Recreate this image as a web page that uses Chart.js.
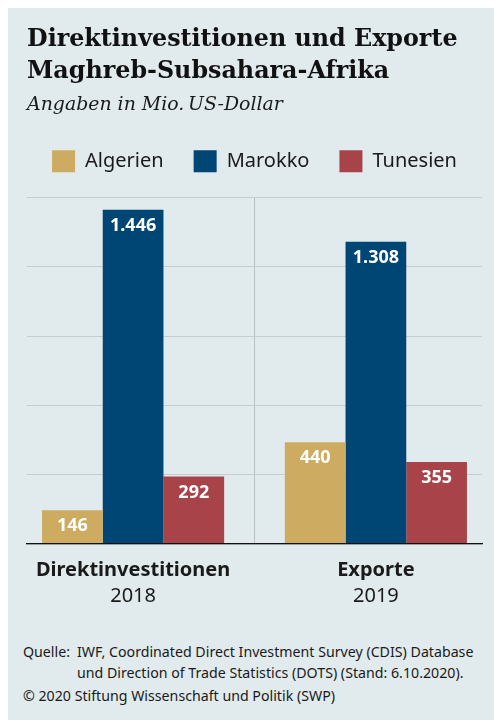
<!DOCTYPE html>
<html lang="de">
<head>
<meta charset="utf-8">
<script src="https://cdn.jsdelivr.net/npm/chart.js@4"></script>
<style>
  html, body { margin: 0; padding: 0; background: #fff; }
  #panel { position: absolute; left: 8px; top: 8px; width: 486px; height: 712px; background: #e1eaed; }
  #chart { position: absolute; left: 0; top: 0; }
  #foot { position: absolute; left: 15px; top: 633px; font-family: "Noto Sans", sans-serif; font-size: 14.2px; color: #1a1a1a; }
  .src { display: flex; line-height: 21px; }
  .lbl { width: 54px; flex: none; }
  .copy { margin-top: 2px; line-height: 21px; }
</style>
</head>
<body>
<div id="panel">
  <canvas id="chart" width="486" height="607"></canvas>
  <div id="foot">
    <div class="src"><span class="lbl">Quelle:</span><span>IWF, Coordinated Direct Investment Survey (CDIS) Database<br>und Direction of Trade Statistics (DOTS) (Stand: 6.10.2020).</span></div>
    <div class="copy">© 2020 Stiftung Wissenschaft und Politik (SWP)</div>
  </div>
</div>
<script>
const categories = ['Direktinvestitionen', 'Exporte'];
const years = ['2018', '2019'];
const countries = ['Algerien', 'Marokko', 'Tunesien'];
const algerien = [146, 440];
const marokko = [1446, 1308];
const tunesien = [292, 355];
const yTicks = [0, 300, 600, 900, 1200, 1500];

const colors = ['#cdab61', '#004675', '#a8434a'];
const ink = '#1a1a1a';

// German thousands separator: 1446 -> 1.446
function fmt(v) {
  return String(v).replace(/\B(?=(\d{3})+(?!\d))/g, '.');
}

const barLabels = {
  id: 'barLabels',
  afterDatasetsDraw(chart) {
    const ctx = chart.ctx;
    ctx.save();
    ctx.fillStyle = '#fff';
    ctx.font = 'bold 18px "Noto Sans"';
    ctx.textAlign = 'center';
    ctx.textBaseline = 'middle';
    chart.data.datasets.forEach((ds, i) => {
      chart.getDatasetMeta(i).data.forEach((bar, j) => {
        ctx.fillText(fmt(ds.data[j]), bar.x, bar.y + 16);
      });
    });
    ctx.restore();
  }
};

// legend kept on one row with wide gaps, plus extra room under it
const legendFit = {
  id: 'legendFit',
  afterInit(chart) {
    const lg = chart.legend;
    const fit = lg.fit;
    const draw = lg._draw;
    lg.fit = function () {
      const mw = this.maxWidth;
      this.maxWidth = mw + 40;
      fit.call(this);
      this.maxWidth = mw;
      this.width = Math.min(this.width, mw);
      this.height += 15;
    };
    lg._draw = function () {
      this.left -= 20;
      this.right += 20;
      draw.call(this);
      this.left += 20;
      this.right -= 20;
    };
  }
};

const datasets = [algerien, marokko, tunesien].map((vals, i) => ({
  label: countries[i],
  data: vals,
  backgroundColor: colors[i],
  borderWidth: 0
}));

new Chart(document.getElementById('chart'), {
  type: 'bar',
  data: {
    labels: categories.map((c, i) => i),
    datasets: datasets
  },
  options: {
    responsive: false,
    animation: false,
    layout: { padding: { left: 19, right: 12, top: 0, bottom: 5 } },
    datasets: {
      bar: { categoryPercentage: 0.75, barPercentage: 1 }
    },
    scales: {
      x: {
        type: 'linear',
        offset: false,
        min: -0.437,
        max: 1.437,
        weight: 0,
        afterBuildTicks: s => { s.ticks = categories.map((c, i) => ({ value: i })); },
        afterFit: s => { s.height = 36; },
        grid: { display: false, drawTicks: false, offset: false },
        border: { display: true, color: '#111', width: 1.3, z: 1 },
        ticks: {
          autoSkip: false,
          maxRotation: 0,
          padding: 14,
          color: ink,
          font: { family: 'Noto Sans', size: 20, weight: 'bold' },
          callback: v => categories[v]
        }
      },
      x2: {
        type: 'linear',
        position: 'bottom',
        offset: false,
        min: -0.437,
        max: 1.437,
        weight: 1,
        afterBuildTicks: s => { s.ticks = [{ value: 0 }, { value: 0.5 }, { value: 1 }]; },
        afterFit: s => { s.height = 30; },
        grid: {
          offset: false,
          drawTicks: false,
          color: c => (c.tick && c.tick.value === 0.5 ? '#b9c0c3' : 'rgba(0,0,0,0)')
        },
        border: { display: false },
        ticks: {
          autoSkip: false,
          maxRotation: 0,
          padding: 4.5,
          color: ink,
          font: { family: 'Noto Sans', size: 20 },
          callback: v => (Number.isInteger(v) ? years[v] : '')
        }
      },
      y: {
        min: 0,
        max: 1500,
        afterBuildTicks: s => { s.ticks = yTicks.map(v => ({ value: v })); },
        grid: { color: '#c6cdd0', drawTicks: false },
        border: { display: false },
        ticks: { display: false }
      }
    },
    plugins: {
      title: {
        display: true,
        align: 'start',
        text: ['Direktinvestitionen und Exporte', 'Maghreb-Subsahara-Afrika'],
        color: '#111',
        font: { family: 'DejaVu Serif', size: 23.8, weight: 'bold', lineHeight: 1.38 },
        padding: { top: 15, bottom: 0 }
      },
      subtitle: {
        display: true,
        align: 'start',
        text: 'Angaben in Mio.\u2009US-Dollar',
        color: ink,
        font: { family: 'DejaVu Serif', size: 18.9, style: 'italic', lineHeight: 1.2 },
        padding: { top: 5, bottom: 4 }
      },
      legend: {
        display: true,
        position: 'top',
        labels: {
          boxWidth: 23,
          boxHeight: 22,
          padding: 30,
          color: ink,
          font: { family: 'Noto Sans', size: 20 }
        }
      },
      tooltip: { enabled: false }
    }
  },
  plugins: [barLabels, legendFit]
});
</script>
</body>
</html>
